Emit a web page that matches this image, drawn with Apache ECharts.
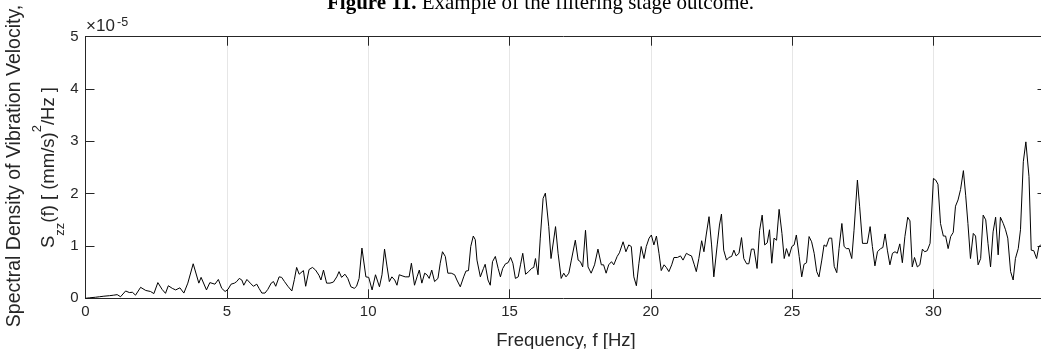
<!DOCTYPE html>
<html>
<head>
<meta charset="utf-8">
<script src="https://cdn.jsdelivr.net/npm/echarts@6/dist/echarts.min.js"></script>
<style>html,body{margin:0;padding:0;background:#fff;}#c{width:1041px;height:349px;}</style>
</head>
<body>
<div id="c"></div>
<script>
// Frequencies [Hz] of the line vertices
var freqs = [
0.00,0.15,0.35,0.50,0.65,0.85,1.00,1.12,1.24,1.42,1.55,1.66,1.77,1.95,2.13,2.30,2.42,2.56,2.71,2.83,
2.93,3.07,3.19,3.34,3.48,3.62,3.81,4.01,4.09,4.28,4.40,4.58,4.70,4.82,4.94,5.04,5.15,5.27,5.35,5.44,
5.53,5.60,5.71,5.83,5.94,6.06,6.14,6.24,6.35,6.45,6.57,6.65,6.73,6.85,6.94,7.04,7.16,7.30,7.39,7.47,
7.56,7.63,7.71,7.79,7.91,8.03,8.14,8.26,8.33,8.42,8.53,8.65,8.77,8.89,8.97,9.06,9.18,9.28,9.39,9.51,
9.59,9.68,9.78,9.92,10.02,10.14,10.26,10.31,10.40,10.49,10.58,10.67,10.75,10.84,10.94,11.02,11.10,11.20,11.31,11.45,
11.53,11.64,11.73,11.81,11.90,12.00,12.08,12.16,12.25,12.35,12.47,12.55,12.63,12.73,12.82,12.94,13.06,13.14,13.26,13.38,
13.46,13.55,13.63,13.72,13.79,13.85,13.97,14.08,14.14,14.24,14.32,14.40,14.50,14.60,14.68,14.76,14.86,14.95,15.04,15.12,
15.21,15.31,15.39,15.47,15.57,15.68,15.78,15.86,15.92,16.01,16.09,16.19,16.27,16.39,16.47,16.54,16.63,16.72,16.83,16.92,
17.00,17.10,17.19,17.25,17.33,17.43,17.51,17.59,17.69,17.78,17.89,18.01,18.13,18.25,18.33,18.42,18.51,18.61,18.69,18.81,
18.89,19.02,19.12,19.22,19.31,19.40,19.49,19.58,19.66,19.76,19.84,19.94,20.02,20.11,20.20,20.29,20.37,20.47,20.55,20.64,
20.74,20.82,20.94,21.05,21.14,21.26,21.35,21.44,21.54,21.61,21.70,21.80,21.88,21.96,22.06,22.15,22.23,22.35,22.43,22.50,
22.58,22.68,22.76,22.86,22.94,23.02,23.12,23.21,23.29,23.39,23.47,23.56,23.65,23.76,23.85,23.94,24.03,24.12,24.20,24.28,
24.36,24.45,24.54,24.64,24.72,24.80,24.89,24.99,25.07,25.15,25.25,25.34,25.42,25.51,25.60,25.69,25.78,25.87,25.95,26.05,
26.13,26.21,26.31,26.40,26.49,26.58,26.66,26.76,26.84,26.92,27.01,27.11,27.19,27.31,27.39,27.49,27.58,27.66,27.76,27.84,
27.93,28.02,28.13,28.21,28.29,28.37,28.46,28.55,28.64,28.72,28.81,28.90,28.99,29.09,29.17,29.25,29.33,29.43,29.52,29.61,
29.69,29.78,29.88,30.00,30.08,30.16,30.25,30.35,30.43,30.52,30.61,30.70,30.78,30.87,30.96,31.06,31.14,31.22,31.31,31.41,
31.49,31.58,31.67,31.76,31.85,31.93,32.02,32.11,32.20,32.29,32.37,32.47,32.55,32.63,32.73,32.82,32.90,33.00,33.08,33.18,
33.27,33.38,33.46,33.55,33.65,33.73,33.80
];
// Spectral density values [x1e-5 (mm/s)^2/Hz]
var psd = [
0.00,0.01,0.02,0.03,0.04,0.05,0.06,0.07,0.03,0.14,0.11,0.115,0.06,0.21,0.15,0.13,0.09,0.30,0.17,0.095,
0.24,0.19,0.16,0.20,0.10,0.29,0.66,0.29,0.40,0.16,0.30,0.27,0.36,0.19,0.13,0.17,0.27,0.29,0.32,0.38,
0.35,0.25,0.36,0.29,0.23,0.27,0.19,0.10,0.10,0.17,0.29,0.32,0.23,0.41,0.40,0.32,0.23,0.14,0.36,0.59,
0.46,0.44,0.53,0.23,0.55,0.59,0.54,0.44,0.35,0.54,0.29,0.29,0.31,0.41,0.51,0.40,0.46,0.38,0.22,0.19,
0.23,0.38,0.96,0.41,0.40,0.16,0.45,0.48,0.22,0.45,0.94,0.60,0.32,0.41,0.35,0.25,0.45,0.43,0.41,0.41,
0.67,0.25,0.41,0.54,0.29,0.48,0.45,0.38,0.54,0.32,0.38,0.67,0.89,0.80,0.48,0.48,0.45,0.35,0.22,0.41,
0.52,0.53,0.99,1.19,1.12,0.73,0.41,0.57,0.65,0.35,0.25,0.70,0.80,0.57,0.41,0.57,0.66,0.68,0.78,0.67,
0.38,0.41,0.64,0.86,0.46,0.51,0.57,0.59,0.76,0.45,1.15,1.91,2.01,1.37,0.76,0.76,1.37,0.86,0.38,0.48,
0.41,0.48,0.73,0.76,1.11,0.73,0.70,0.60,1.30,0.60,0.48,0.64,0.94,0.64,0.64,0.48,0.64,0.70,0.64,0.80,
0.87,1.08,0.89,1.02,0.99,0.41,0.24,0.67,0.99,0.76,0.99,1.15,1.21,1.02,1.19,0.86,0.53,0.64,0.59,0.51,
0.64,0.78,0.78,0.81,0.73,0.86,0.83,0.81,0.64,0.51,0.76,1.10,0.89,1.21,1.56,1.02,0.41,1.02,1.40,1.61,
0.92,0.73,0.78,0.80,0.92,0.81,0.86,1.16,0.76,0.66,0.66,0.94,0.94,0.57,1.30,1.59,1.02,1.06,1.31,0.67,
1.15,1.11,1.70,1.24,0.76,0.95,0.80,0.99,1.02,1.21,0.80,0.41,0.65,0.68,1.18,1.08,0.86,0.51,0.41,0.73,
1.02,0.99,1.15,1.15,0.61,0.49,0.95,1.43,0.99,0.95,0.95,0.76,1.30,2.26,1.75,1.05,1.05,1.05,1.37,0.99,
0.62,0.89,0.95,0.97,1.23,0.92,0.64,0.86,0.89,0.86,1.04,0.68,1.18,1.55,1.48,0.60,0.78,0.60,0.64,0.94,
0.89,0.91,1.05,2.29,2.26,2.18,1.43,1.19,1.19,0.95,1.18,1.26,1.76,1.88,2.08,2.44,1.97,1.43,0.76,1.24,
1.19,0.64,0.76,1.59,1.50,1.05,0.60,1.27,1.55,0.83,1.55,1.43,1.31,1.15,0.51,0.35,0.76,0.95,1.31,2.61,
2.99,2.33,0.92,0.91,0.76,0.99,1.02
];
var xTicks = [0, 5, 10, 15, 20, 25, 30];
var yTicks = [0, 1, 2, 3, 4, 5];

var data = freqs.map(function (f, i) { return [f, psd[i]]; });
var FONT = '"Liberation Sans", Arial, sans-serif';
var SERIF = '"Liberation Serif", "Times New Roman", serif';
var AX = '#262626';

var chart = echarts.init(document.getElementById('c'), null, {renderer: 'canvas'});
chart.setOption({
  animation: false,
  backgroundColor: '#fff',
  title: {
    text: '{b|Figure 11.}{r| Example of the filtering stage outcome.}',
    left: 327, top: -7, padding: 0,
    textStyle: {
      fontFamily: SERIF, fontSize: 21, fontWeight: 'normal', color: '#000',
      rich: {
        b: { fontFamily: SERIF, fontSize: 21, fontWeight: 'bold', color: '#000' },
        r: { fontFamily: SERIF, fontSize: 21, fontWeight: 'normal', color: '#000' }
      }
    }
  },
  graphic: [
    {
      type: 'text', x: 86, y: 35, silent: true,
      style: {
        text: '×10', fill: AX, font: '17px "Liberation Sans", Arial, sans-serif',
        align: 'left', verticalAlign: 'bottom'
      }
    },
    {
      type: 'text', x: 117, y: 29, silent: true,
      style: {
        text: '-5', fill: AX, font: '12.5px "Liberation Sans", Arial, sans-serif',
        align: 'left', verticalAlign: 'bottom'
      }
    },
    {
      type: 'text', x: 15, y: 166, rotation: Math.PI / 2, silent: true,
      style: {
        text: 'Spectral Density of Vibration Velocity,',
        font: '19.5px "Liberation Sans", Arial, sans-serif', fill: AX,
        align: 'center', verticalAlign: 'middle'
      }
    }
  ],
  grid: { left: 85.5, top: 36.7, width: 961, height: 261.6, containLabel: false, outerBoundsMode: 'none' },
  xAxis: [
    {
      type: 'value', min: 0, max: 34, interval: 5,
      name: 'Frequency, f [Hz]', nameLocation: 'middle', nameGap: 33, nameMoveOverlap: false,
      nameTextStyle: { fontFamily: FONT, fontSize: 18.5, color: AX },
      axisLine: { show: true, lineStyle: { color: AX, width: 1 } },
      axisTick: { show: true, inside: true, length: 9, lineStyle: { color: AX } },
      axisLabel: {
        color: AX, fontFamily: FONT, fontSize: 15, margin: 6, showMaxLabel: false,
        formatter: function (v) { return xTicks.indexOf(v) >= 0 ? String(v) : ''; }
      },
      splitLine: { show: true, lineStyle: { color: '#e6e6e6', width: 1 } }
    },
    {
      type: 'value', position: 'top', min: 0, max: 34, interval: 5,
      axisLine: { show: true, onZero: false, lineStyle: { color: AX, width: 1 } },
      axisTick: { show: true, inside: true, length: 9, lineStyle: { color: AX } },
      axisLabel: { show: false }, splitLine: { show: false }
    }
  ],
  yAxis: [
    {
      type: 'value', min: 0, max: 5, interval: 1,
      name: '{n|S}{s|zz}{n|(f) [ (mm/s)}{p|2}{n|/Hz ]}',
      nameLocation: 'middle', nameGap: 26, nameRotate: 90, nameMoveOverlap: false,
      nameTextStyle: {
        color: AX,
        rich: {
          n: { fontFamily: FONT, fontSize: 18.5, color: AX, lineHeight: 22 },
          s: { fontFamily: FONT, fontSize: 13, color: AX, lineHeight: 12, verticalAlign: 'bottom', padding: [0, 0, -7, 0] },
          p: { fontFamily: FONT, fontSize: 13, color: AX, lineHeight: 12, verticalAlign: 'top', padding: [-7, 0, 0, 0] }
        }
      },
      axisLine: { show: true, onZero: false, lineStyle: { color: AX, width: 1 } },
      axisTick: { show: true, inside: true, length: 9, lineStyle: { color: AX } },
      axisLabel: { color: AX, fontFamily: FONT, fontSize: 15, margin: 7,
        formatter: function (v) { return yTicks.indexOf(v) >= 0 ? String(v) : ''; } },
      splitLine: { show: false }
    },
    {
      type: 'value', position: 'right', min: 0, max: 5, interval: 1,
      axisLine: { show: true, onZero: false, lineStyle: { color: AX, width: 1 } },
      axisTick: { show: true, inside: true, length: 9, lineStyle: { color: AX } },
      axisLabel: { show: false }, splitLine: { show: false }
    }
  ],
  series: [{
    type: 'line', data: data, xAxisIndex: 0, yAxisIndex: 0,
    showSymbol: false, symbol: 'none',
    lineStyle: { color: '#000', width: 1 },
    emphasis: { disabled: true }
  }]
});
</script>
</body>
</html>
